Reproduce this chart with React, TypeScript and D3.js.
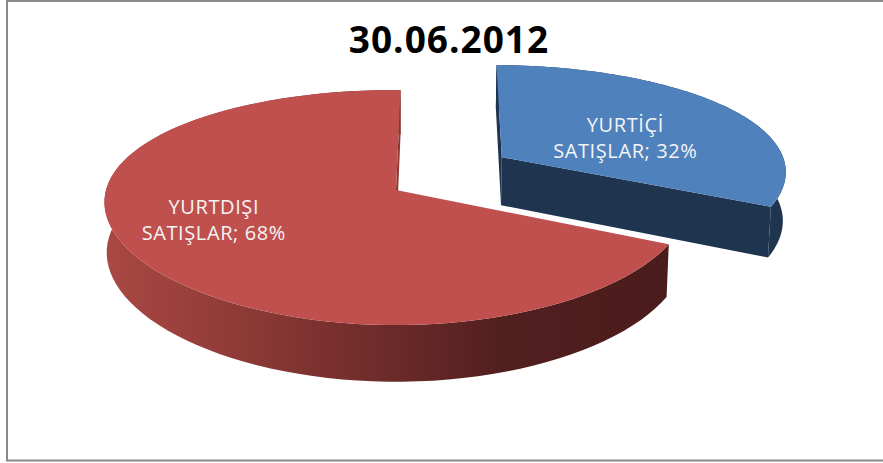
import React from "react";
import * as d3 from "d3";

// ---- data ----
const categories = ["YURTİÇİ SATIŞLAR", "YURTDIŞI SATIŞLAR"];
const shares = [32, 68];
const explodeFrac = [0.48, 0];
const explodeDirShiftDeg = [-7, 0];
const firstSliceDeg = 1;
const topColors = ["#4F81BD", "#C0504D"];
const sideColors = ["#1F344F", "url(#redSide)"];
const faceColors = ["#1F344F", "#8A3633"];
const labelAngleDeg = [68, 248];
const labelRadius = [0.49, 0.66];
const chartTitle = "30.06.2012";

const WIDTH = 883;
const HEIGHT = 463;

// perspective camera for the 3D pie
const cam = { cx: 396, cy: 190, sy: 1875, sx: 1798, D: 6.2, sin: 0.38, h: 0.18, kx: 0.7 };
const cosT = Math.sqrt(1 - cam.sin * cam.sin);

function project(X: number, d: number, z: number): [number, number] {
  const dz = (z - 1) * cam.h;
  const u = d * cam.sin + dz * cosT;
  const depth = d * cosT - dz * cam.sin;
  const w = cam.D + depth;
  const wx = cam.D + cam.kx * depth;
  return [cam.cx + (cam.sx * X) / wx, cam.cy - (cam.sy * u) / w];
}

function rim(ox: number, od: number, a0: number, a1: number, z: number, n = 90): [number, number][] {
  const pts: [number, number][] = [];
  for (let i = 0; i <= n; i++) {
    const a = a0 + ((a1 - a0) * i) / n;
    pts.push(project(ox + Math.sin(a), od + Math.cos(a), z));
  }
  return pts;
}

const poly = (pts: [number, number][]) =>
  "M" + pts.map((p) => p[0].toFixed(2) + "," + p[1].toFixed(2)).join("L") + "Z";

export default function App() {
  const start = (firstSliceDeg * Math.PI) / 180;
  const arcs = d3
    .pie<number>()
    .sort(null)
    .startAngle(start)
    .endAngle(start + 2 * Math.PI)(shares);

  const camD = -cam.D * cosT;

  const slices = arcs.map((a, i) => {
    const mid = (a.startAngle + a.endAngle) / 2;
    const dir = mid + (explodeDirShiftDeg[i] * Math.PI) / 180;
    const ox = explodeFrac[i] * Math.sin(dir);
    const od = explodeFrac[i] * Math.cos(dir);
    const a0 = a.startAngle;
    const a1 = a.endAngle;
    const apexTop = project(ox, od, 1);
    const apexBot = project(ox, od, 0);
    const topRim = rim(ox, od, a0, a1, 1);
    const botRim = rim(ox, od, a0, a1, 0);
    const top = poly([apexTop, ...topRim]);
    const side = poly([...topRim, ...botRim.slice().reverse()]);
    const faces: string[] = [];
    const v0 = -ox * -Math.cos(a0) + (camD - od) * Math.sin(a0);
    if (v0 > 1e-6) {
      faces.push(poly([apexTop, topRim[0], botRim[0], apexBot]));
    }
    const v1 = -ox * Math.cos(a1) + (camD - od) * -Math.sin(a1);
    if (v1 > 1e-6) {
      faces.push(poly([apexTop, topRim[topRim.length - 1], botRim[botRim.length - 1], apexBot]));
    }
    const la = (labelAngleDeg[i] * Math.PI) / 180;
    const lp = project(ox + labelRadius[i] * Math.sin(la), od + labelRadius[i] * Math.cos(la), 1);
    const words = categories[i].split(" ");
    return {
      i,
      depth: Math.cos(mid),
      top,
      side,
      faces,
      lp,
      lines: [words[0], `${words.slice(1).join(" ")}; ${shares[i]}%`],
    };
  });

  const order = slices.slice().sort((p, q) => q.depth - p.depth);

  return (
    <svg
      width={WIDTH}
      height={HEIGHT}
      style={{ position: "absolute", left: 0, top: 0, display: "block" }}
    >
      <defs>
        <linearGradient id="redSide" gradientUnits="userSpaceOnUse" x1={105} y1={0} x2={665} y2={0}>
          <stop offset="0" stopColor="#AA4844" />
          <stop offset="0.26" stopColor="#8C3936" />
          <stop offset="0.5" stopColor="#6C2B29" />
          <stop offset="0.71" stopColor="#521F1F" />
          <stop offset="1" stopColor="#4A1C1B" />
        </linearGradient>
      </defs>
      <rect x={0} y={0} width={WIDTH} height={HEIGHT} fill="#FFFFFF" />
      <rect x={7} y={1} width={880} height={459.5} fill="#FFFFFF" stroke="#898989" strokeWidth={2} />
      <text
        x={449}
        y={53}
        textAnchor="middle"
        fontFamily="'Open Sans', sans-serif"
        fontWeight={700}
        fontSize={37}
        letterSpacing={1}
        fill="#000000"
      >
        {chartTitle}
      </text>
      {order.map((sl) => (
        <g key={sl.i}>
          <path d={sl.side} fill={sideColors[sl.i]} />
          {sl.faces.map((f, k) => (
            <path key={k} d={f} fill={faceColors[sl.i]} />
          ))}
          <path d={sl.top} fill={topColors[sl.i]} />
        </g>
      ))}
      {slices.map((sl) => (
        <text
          key={"l" + sl.i}
          x={sl.lp[0]}
          y={sl.lp[1]}
          textAnchor="middle"
          fontFamily="'Open Sans', sans-serif"
          fontSize={20}
          letterSpacing={0.6}
          fill="#F4F4F4"
        >
          <tspan x={sl.lp[0]} dy={-6}>
            {sl.lines[0]}
          </tspan>
          <tspan x={sl.lp[0]} dy={26}>
            {sl.lines[1]}
          </tspan>
        </text>
      ))}
    </svg>
  );
}
